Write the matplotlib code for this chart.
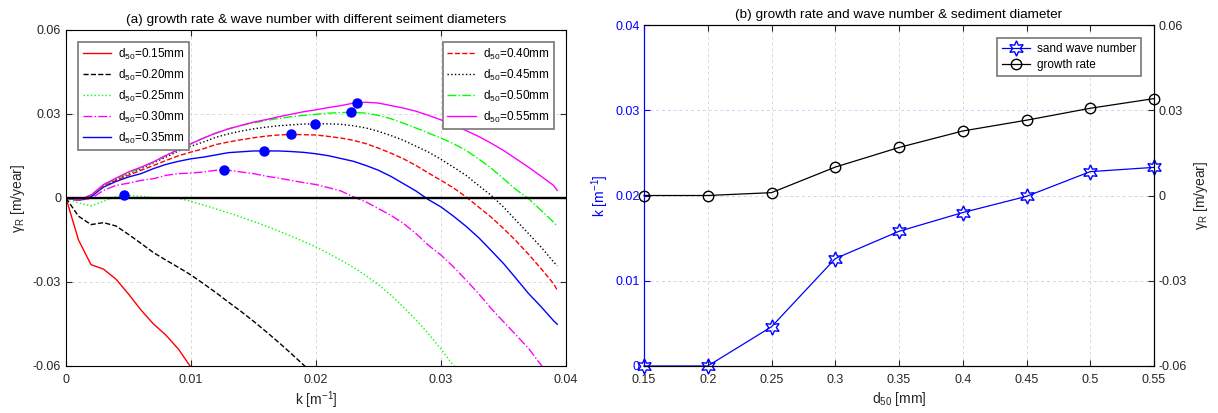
import matplotlib
matplotlib.use('Agg')
import matplotlib.pyplot as plt

plt.rcParams['font.family'] = ['Liberation Sans', 'DejaVu Sans']
plt.rcParams['mathtext.fontset'] = 'custom'
plt.rcParams['mathtext.rm'] = 'Liberation Sans'
plt.rcParams['mathtext.it'] = 'Liberation Sans'
plt.rcParams['mathtext.default'] = 'regular'

# ============ DATA ============
# (a) growth rate vs wave number, one curve per d50
K = [0.000, 0.001, 0.002, 0.003, 0.004, 0.005, 0.006, 0.007, 0.008, 0.009,
     0.010, 0.011, 0.012, 0.013, 0.014, 0.015, 0.016, 0.017, 0.018, 0.019,
     0.020, 0.021, 0.022, 0.023, 0.024, 0.025, 0.026, 0.027, 0.028, 0.029,
     0.030, 0.031, 0.032, 0.033, 0.034, 0.035, 0.036, 0.037, 0.038, 0.039,
     0.0393]

g_015 = [0, -0.0150, -0.0238, -0.0254, -0.0290, -0.0343, -0.0400, -0.0450,
         -0.0490, -0.0540, -0.0605, -0.0660]
g_020 = [0, -0.0065, -0.0095, -0.0088, -0.0100, -0.0130, -0.0162, -0.0195,
         -0.0222, -0.0248, -0.0275, -0.0306, -0.0338, -0.0372, -0.0405,
         -0.0440, -0.0477, -0.0515, -0.0555, -0.0596, -0.0640]
g_025 = [0, -0.0018, -0.0028, -0.0012, 0.0004, 0.0009, 0.0006, 0.0002, 0.0001,
         -0.0001, -0.0012, -0.0025, -0.0039, -0.0053, -0.0068, -0.0084,
         -0.0100, -0.0118, -0.0136, -0.0155, -0.0175, -0.0198, -0.0222,
         -0.0248, -0.0277, -0.0310, -0.0347, -0.0390, -0.0435, -0.0485,
         -0.0540, -0.0598, -0.0660]
g_030 = [0, -0.0008, -0.0002, 0.0027, 0.0045, 0.0053, 0.0063, 0.0069, 0.0081,
         0.0087, 0.0089, 0.0093, 0.0099, 0.0099, 0.0093, 0.0087, 0.0078,
         0.0071, 0.0063, 0.0055, 0.0048, 0.0037, 0.0025, 0.0004, -0.0014,
         -0.0038, -0.0062, -0.0091, -0.0127, -0.0169, -0.0204, -0.0246,
         -0.0293, -0.0341, -0.0394, -0.0442, -0.0489, -0.0537, -0.0596,
         -0.0660]
g_035 = [0, -0.0008, 0.0004, 0.0039, 0.0059, 0.0075, 0.0087, 0.0105, 0.0120,
         0.0131, 0.0140, 0.0146, 0.0154, 0.0162, 0.0165, 0.0168, 0.0168,
         0.0168, 0.0166, 0.0163, 0.0158, 0.0151, 0.0141, 0.0131, 0.0116,
         0.0099, 0.0077, 0.0051, 0.0025, -0.0006, -0.0032, -0.0065, -0.0101,
         -0.0141, -0.0187, -0.0234, -0.0287, -0.0341, -0.0388, -0.0438,
         -0.0451]
g_040 = [0, -0.0008, 0.0010, 0.0043, 0.0063, 0.0081, 0.0099, 0.0116, 0.0134,
         0.0151, 0.0164, 0.0176, 0.0191, 0.0200, 0.0208, 0.0215, 0.0221,
         0.0225, 0.0227, 0.0226, 0.0225, 0.0220, 0.0214, 0.0206, 0.0194,
         0.0178, 0.0160, 0.0140, 0.0116, 0.0089, 0.0063, 0.0036, 0.0004,
         -0.0032, -0.0068, -0.0109, -0.0153, -0.0201, -0.0252, -0.0306,
         -0.0329]
g_045 = [0, -0.0008, 0.0010, 0.0045, 0.0067, 0.0087, 0.0105, 0.0126, 0.0146,
         0.0168, 0.0185, 0.0200, 0.0217, 0.0229, 0.0239, 0.0247, 0.0253,
         0.0258, 0.0261, 0.0264, 0.0265, 0.0265, 0.0263, 0.0258, 0.0250,
         0.0238, 0.0223, 0.0206, 0.0185, 0.0164, 0.0138, 0.0110, 0.0081,
         0.0045, 0.0010, -0.0032, -0.0080, -0.0127, -0.0175, -0.0228,
         -0.0242]
g_050 = [0, -0.0008, 0.0010, 0.0045, 0.0069, 0.0089, 0.0108, 0.0128, 0.0152,
         0.0173, 0.0194, 0.0214, 0.0232, 0.0247, 0.0259, 0.0268, 0.0277,
         0.0284, 0.0290, 0.0295, 0.0299, 0.0303, 0.0305, 0.0306, 0.0303,
         0.0295, 0.0283, 0.0267, 0.0250, 0.0232, 0.0214, 0.0194, 0.0170,
         0.0140, 0.0107, 0.0069, 0.0030, -0.0002, -0.0044, -0.0086, -0.0101]
g_055 = [0, -0.0008, 0.0010, 0.0048, 0.0071, 0.0093, 0.0110, 0.0129, 0.0152,
         0.0173, 0.0194, 0.0214, 0.0232, 0.0247, 0.0259, 0.0271, 0.0280,
         0.0290, 0.0299, 0.0308, 0.0315, 0.0323, 0.0330, 0.0339, 0.0342,
         0.0339, 0.0330, 0.0321, 0.0310, 0.0295, 0.0279, 0.0261, 0.0241,
         0.0220, 0.0196, 0.0170, 0.0140, 0.0110, 0.0078, 0.0045, 0.0027]

# (b) peak wave number and growth rate vs d50
D50 = [0.15, 0.20, 0.25, 0.30, 0.35, 0.40, 0.45, 0.50, 0.55]
K_PEAK = [0.0, 0.0, 0.0046, 0.0126, 0.0158, 0.0180, 0.0199, 0.0228, 0.0233]
G_PEAK = [0.0, 0.0, 0.0010, 0.0100, 0.0169, 0.0227, 0.0265, 0.0307, 0.0341]

curves = [
    ('0.15', g_015, '#ff0000', '-'),
    ('0.20', g_020, 'black', '--'),
    ('0.25', g_025, '#00ff00', ':'),
    ('0.30', g_030, '#ff00ff', '-.'),
    ('0.35', g_035, '#0000ff', '-'),
    ('0.40', g_040, '#ff0000', '--'),
    ('0.45', g_045, 'black', ':'),
    ('0.50', g_050, '#00ff00', '-.'),
    ('0.55', g_055, '#ff00ff', '-'),
]

GRID_KW = dict(color='#d8d8d8', linestyle=(0, (3, 3)), linewidth=0.7)
TICK_FS = 9
LABEL_FS = 10
TITLE_FS = 9.7
LEG_FS = 8.5

# ============ PLOT ============
fig = plt.figure(figsize=(12.18, 4.13), dpi=100)

# ---- (a) ----
ax = fig.add_axes([66 / 1218, 47 / 413, 500 / 1218, 336 / 413])
lines = []
for lab, g, col, ls in curves:
    ln, = ax.plot(K[:len(g)], g, color=col, linestyle=ls, linewidth=1.0,
                  label=f'd$_{{50}}$={lab}mm')
    lines.append(ln)
ax.axhline(0, color='black', linewidth=1.7)
ax.plot(K_PEAK[2:], G_PEAK[2:], 'o', color='#0000ff', markersize=6.5,
        linestyle='none', zorder=5)

ax.set_xlim(0, 0.04)
ax.set_ylim(-0.06, 0.06)
ax.set_xticks([0, 0.01, 0.02, 0.03, 0.04])
ax.set_xticklabels(['0', '0.01', '0.02', '0.03', '0.04'])
ax.set_yticks([-0.06, -0.03, 0, 0.03, 0.06])
ax.set_yticklabels(['-0.06', '-0.03', '0', '0.03', '0.06'])
ax.tick_params(axis='x', direction='in', length=4, labelsize=TICK_FS,
               top=True, colors='#262626', pad=5.5)
ax.tick_params(axis='y', direction='in', length=4, labelsize=TICK_FS,
               right=True, colors='#262626', pad=3.5)
ax.grid(True, **GRID_KW)
ax.set_xlabel('k [m$^{-1}$]', fontsize=LABEL_FS, labelpad=3, color='#262626')
ax.set_ylabel('γ$_R$ [m/year]', fontsize=LABEL_FS, labelpad=4, color='#262626')
ax.set_title('(a) growth rate & wave number with different seiment diameters',
             fontsize=TITLE_FS, pad=5)

leg1 = ax.legend(handles=lines[:5], loc='upper left', fontsize=LEG_FS,
                 handlelength=2.4, handletextpad=0.6, fancybox=False,
                 framealpha=1, edgecolor='#777777', borderaxespad=1.0,
                 labelspacing=0.5, borderpad=0.4)
leg1.get_frame().set_linewidth(1.2)
ax.add_artist(leg1)
leg2 = ax.legend(handles=lines[5:], loc='upper right', fontsize=LEG_FS,
                 handlelength=2.4, handletextpad=0.6, fancybox=False,
                 framealpha=1, edgecolor='#777777', borderaxespad=1.0,
                 labelspacing=0.5, borderpad=0.4)
leg2.get_frame().set_linewidth(1.2)

# ---- (b) ----
axb = fig.add_axes([644 / 1218, 47 / 413, 510 / 1218, 341 / 413])
star, = axb.plot(D50, K_PEAK, color='#0000ff', linewidth=0.9,
                 marker=(6, 1, 0), markersize=11, markerfacecolor='none',
                 markeredgecolor='#0000ff', clip_on=False, zorder=4,
                 label='sand wave number')
axb.set_xlim(0.15, 0.55)
axb.set_ylim(0, 0.04)
axb.set_xticks(D50)
axb.set_xticklabels(['0.15', '0.2', '0.25', '0.3', '0.35', '0.4', '0.45',
                     '0.5', '0.55'])
axb.set_yticks([0, 0.01, 0.02, 0.03, 0.04])
axb.set_yticklabels(['0', '0.01', '0.02', '0.03', '0.04'])
axb.tick_params(axis='x', direction='in', length=4, labelsize=TICK_FS,
                colors='#262626', top=True, pad=5.5)
axb.tick_params(axis='y', direction='in', length=4, labelsize=TICK_FS,
                colors='#0000ff', pad=3)
axb.spines['left'].set_color('#0000ff')
axb.grid(True, axis='x', **GRID_KW)
axb.grid(True, axis='y', color='#d0d0f4', linestyle=(0, (3, 3)), linewidth=0.7)
axb.set_ylabel('k [m$^{-1}$]', fontsize=LABEL_FS, color='#0000ff', labelpad=3)
axb.set_xlabel('d$_{50}$ [mm]', fontsize=LABEL_FS, labelpad=3, color='#262626')
axb.set_title('(b) growth rate and wave number & sediment diameter',
              fontsize=TITLE_FS, pad=5)

axr = axb.twinx()
circ, = axr.plot(D50, G_PEAK, color='black', linewidth=0.9, marker='o',
                 markersize=7.5, markerfacecolor='none', markeredgecolor='black',
                 clip_on=False, zorder=4, label='growth rate')
axr.set_ylim(-0.06, 0.06)
axr.set_yticks([-0.06, -0.03, 0, 0.03, 0.06])
axr.set_yticklabels(['-0.06', '-0.03', '0', '0.03', '0.06'])
axr.tick_params(axis='y', direction='in', length=4, labelsize=TICK_FS,
                colors='#262626', pad=3)
axr.spines['left'].set_color('#0000ff')
axr.set_ylabel('γ$_R$ [m/year]', fontsize=LABEL_FS, labelpad=4, color='#262626')

legb = axr.legend(handles=[star, circ], loc='upper right', fontsize=LEG_FS,
                  handlelength=2.4, handletextpad=0.6, fancybox=False,
                  framealpha=1, edgecolor='#777777', borderaxespad=1.1,
                  labelspacing=0.35, borderpad=0.4)
legb.get_frame().set_linewidth(1.2)

fig.savefig('out.png', dpi=100)
